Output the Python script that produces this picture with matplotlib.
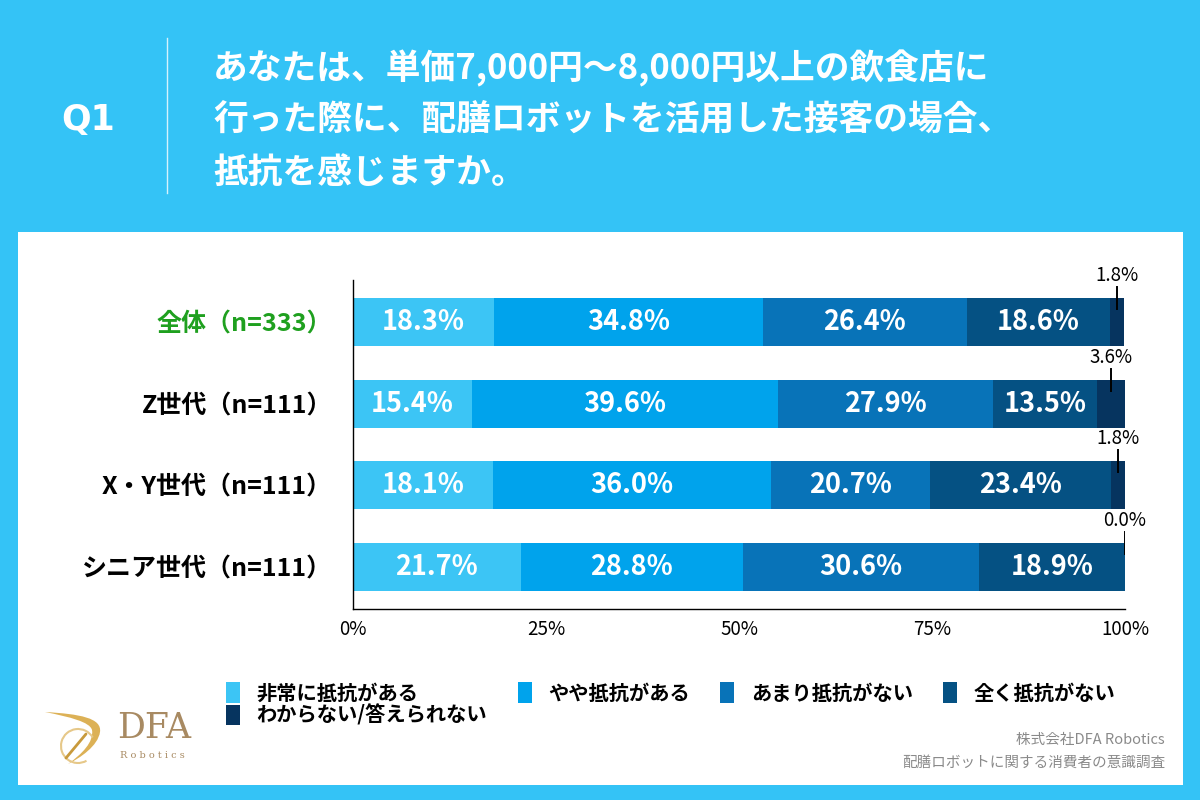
import numpy as np
import matplotlib
matplotlib.use("Agg")
import matplotlib.pyplot as plt
from matplotlib.patches import Rectangle, Arc, Patch, PathPatch
from matplotlib.path import Path
from matplotlib.lines import Line2D

plt.rcParams["font.family"] = ["Noto Sans CJK JP", "DejaVu Sans"]

# data
categories = ["全体（n=333）", "Z世代（n=111）", "X・Y世代（n=111）", "シニア世代（n=111）"]
series_names = ["非常に抵抗がある", "やや抵抗がある", "あまり抵抗がない", "全く抵抗がない", "わからない/答えられない"]
very = [18.3, 15.4, 18.1, 21.7]
somewhat = [34.8, 39.6, 36.0, 28.8]
not_much = [26.4, 27.9, 20.7, 30.6]
not_at_all = [18.6, 13.5, 23.4, 18.9]
unknown = [1.8, 3.6, 1.8, 0.0]
x_ticks = [0, 25, 50, 75, 100]
x_tick_labels = ["0%", "25%", "50%", "75%", "100%"]

title_lines = [
    "あなたは、単価7,000円〜8,000円以上の飲食店に",
    "行った際に、配膳ロボットを活用した接客の場合、",
    "抵抗を感じますか。",
]

BG = "#34C3F6"
colors = ["#3CC5F5", "#00A3EC", "#0873B8", "#055183", "#06345F"]

fig = plt.figure(figsize=(12, 8), dpi=100, facecolor=BG)

# white panel (behind the axes)
fig.patches.append(Rectangle((18 / 1200, 1 - 785 / 800), 1165 / 1200, 553 / 800,
                             transform=fig.transFigure, facecolor="white",
                             edgecolor="none", zorder=-5))

# header
fig.text(88 / 1200, 1 - 120 / 800, "Q1", color="white", fontsize=25, fontweight="bold",
         ha="center", va="center", family=["DejaVu Sans"])
fig.add_artist(Line2D([167 / 1200, 167 / 1200], [1 - 38 / 800, 1 - 193 / 800],
                      transform=fig.transFigure, color="white", lw=1, alpha=0.8))
for i, line in enumerate(title_lines):
    fig.text(213 / 1200, 1 - (68 + 52 * i) / 800, line, color="white", fontsize=25,
             fontweight="bold", ha="left", va="center")

# chart
ax = fig.add_axes([353 / 1200, 1 - 609 / 800, 772 / 1200, 329 / 800])
values = np.array([very, somewhat, not_much, not_at_all, unknown])
y = np.arange(len(categories))
bar_h = 0.59
left = np.zeros(len(categories))
for k in range(values.shape[0]):
    ax.barh(y, values[k], left=left, height=bar_h, color=colors[k], edgecolor="none")
    for j in range(len(categories)):
        v = values[k, j]
        cx = left[j] + v / 2
        if k < 4:
            ax.text(cx, y[j], f"{v:.1f}%", color="white", fontsize=19.5, fontweight="bold",
                    ha="center", va="center")
        else:
            ax.plot([cx, cx], [y[j] - 0.43, y[j] - 0.16], color="black", lw=1.4)
            ax.text(cx, y[j] - 0.57, f"{v:.1f}%", color="black", fontsize=13.5,
                    ha="center", va="center")
    left += values[k]

ax.set_xlim(0, 100)
ax.set_ylim(len(categories) - 0.48, -0.52)
ax.set_xticks(x_ticks)
ax.set_xticklabels(x_tick_labels, fontsize=13.5)
ax.set_yticks(y)
ax.set_yticklabels(categories, fontsize=18, fontweight="bold")
ax.get_yticklabels()[0].set_color("#1FA01F")
ax.tick_params(axis="both", length=0)
ax.tick_params(axis="y", pad=15)
ax.tick_params(axis="x", pad=7)
for s in ["top", "right"]:
    ax.spines[s].set_visible(False)
for s in ["left", "bottom"]:
    ax.spines[s].set_linewidth(1.0)
    ax.spines[s].set_color("black")
ax.set_facecolor("none")

# legend (order so that row1 = 1..4, row2 = 5)
handles = [Patch(facecolor=c, edgecolor="none") for c in colors]
order = [0, 4, 1, 2, 3]
fig.legend([handles[i] for i in order], [series_names[i] for i in order],
           loc="upper left", bbox_to_anchor=(208 / 1200, 1 - 664 / 800), ncol=4,
           frameon=False, handlelength=0.7, handleheight=1.2, handletextpad=0.8,
           columnspacing=1.5, labelspacing=0.05,
           prop={"size": 14.6, "weight": "bold"})

# footer
fig.text(1165 / 1200, 1 - 740 / 800, "株式会社DFA Robotics", color="#8A8A8A",
         fontsize=10.5, ha="right", va="center")
fig.text(1165 / 1200, 1 - 763 / 800, "配膳ロボットに関する消費者の意識調査", color="#8A8A8A",
         fontsize=10.5, ha="right", va="center")

# logo
lax = fig.add_axes([40 / 1200, 1 - 770 / 800, 160 / 1200, 70 / 800])
lax.set_xlim(0, 160)
lax.set_ylim(70, 0)
lax.axis("off")
gold = "#D9A944"
swoosh = Path([(5, 12), (40, 14), (62, 18), (60, 32), (58, 46), (40, 58), (28, 64),
               (42, 54), (54, 42), (52, 30), (50, 22), (30, 17), (5, 12)],
              [Path.MOVETO, Path.CURVE4, Path.CURVE4, Path.CURVE4, Path.CURVE4, Path.CURVE4,
               Path.CURVE4, Path.CURVE4, Path.CURVE4, Path.CURVE4, Path.CURVE4, Path.CURVE4,
               Path.CURVE4])
lax.add_patch(PathPatch(swoosh, facecolor=gold, edgecolor="none", alpha=0.9))
lax.add_patch(Arc((38, 46), 34, 34, angle=0, theta1=60, theta2=330, color="#E6C889", lw=1.5))
lax.plot([26, 46], [58, 34], color="#C89A3C", lw=2, solid_capstyle="round")
lax.text(77, 28, "DFA", color="#A88A62", fontsize=25, family=["DejaVu Serif"],
         ha="left", va="center")
lax.text(80, 56, "R o b o t i c s", color="#A88A62", fontsize=7, family=["DejaVu Serif"],
         ha="left", va="center")

fig.savefig("out.png", dpi=100, facecolor=BG)
